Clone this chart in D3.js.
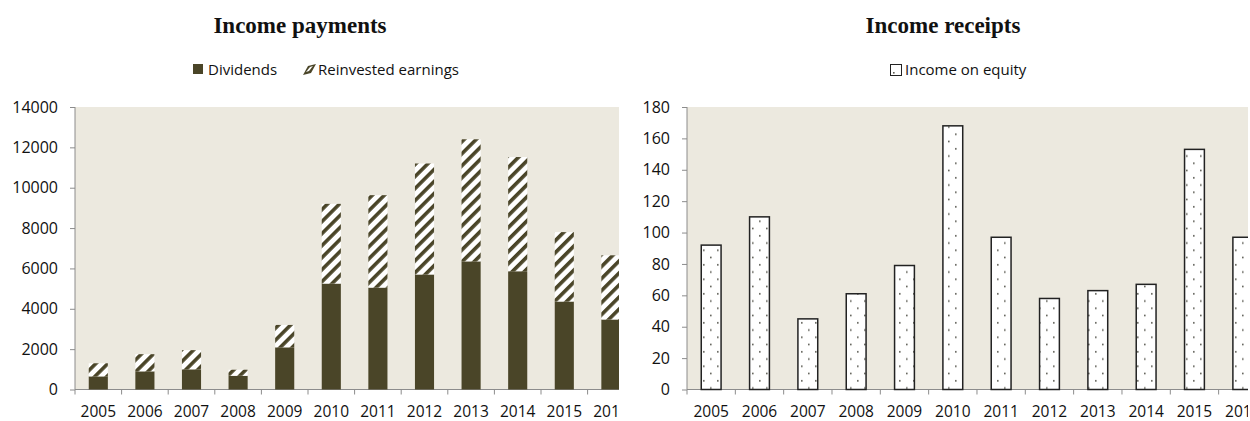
<!DOCTYPE html>
<html>
<head>
<meta charset="utf-8">
<script src="https://cdn.jsdelivr.net/npm/d3@7"></script>
<style>
  body { margin: 0; background: #fff; }
  svg { display: block; }
  text { font-family: "Open Sans", sans-serif; fill: #111; }
</style>
</head>
<body>
<div id="chart"></div>
<script>
// data
var years = ["2005","2006","2007","2008","2009","2010","2011","2012","2013","2014","2015","2016"]
var dividends = [650, 900, 1000, 680, 2090, 5250, 5050, 5700, 6350, 5860, 4360, 3470]
var reinvested = [650, 850, 950, 300, 1110, 3950, 4580, 5500, 6050, 5660, 3440, 3180]
var incomeOnEquity = [92, 110, 45, 61, 79, 168, 97, 58, 63, 67, 153, 97]
var paymentTicks = [0, 2000, 4000, 6000, 8000, 10000, 12000, 14000]
var receiptTicks = [0, 20, 40, 60, 80, 100, 120, 140, 160, 180]

var width = 1250
var height = 421
var plotTop = 107
var plotBottom = 389.5
var bg = "#ECE9DF"
var dark = "#4A4528"
var axisColor = "#8c8c8c"

var svg = d3.select("#chart")
  .append("svg")
    .attr("width", width)
    .attr("height", height)

var defs = svg.append("defs")

// diagonal stripes for reinvested earnings
var hatch = defs.append("pattern")
    .attr("id", "hatch")
    .attr("patternUnits", "userSpaceOnUse")
    .attr("width", 8.5)
    .attr("height", 8.5)
    .attr("patternTransform", "rotate(45)")
hatch.append("rect").attr("width", 8.5).attr("height", 8.5).attr("fill", "#fff")
hatch.append("rect").attr("width", 3.6).attr("height", 8.5).attr("fill", dark)

// sparse dots for income on equity
var dots = defs.append("pattern")
    .attr("id", "dots")
    .attr("patternUnits", "userSpaceOnUse")
    .attr("width", 14)
    .attr("height", 14.5)
dots.append("rect").attr("width", 14).attr("height", 14.5).attr("fill", "#fff")
dots.append("rect").attr("x", 3).attr("y", 3).attr("width", 1.6).attr("height", 1.6).attr("fill", "#5c5c54")
dots.append("rect").attr("x", 10).attr("y", 10.25).attr("width", 1.6).attr("height", 1.6).attr("fill", "#5c5c54")

defs.append("clipPath").attr("id", "clipLeft")
  .append("rect").attr("x", 0).attr("y", 0).attr("width", 619).attr("height", height)
defs.append("clipPath").attr("id", "clipRight")
  .append("rect").attr("x", 625).attr("y", 0).attr("width", 623).attr("height", height)

function drawAxes(g, x, y, ticks, x0, x1) {
  // plot background
  g.append("rect")
    .attr("x", x0)
    .attr("y", plotTop)
    .attr("width", x1 - x0)
    .attr("height", plotBottom - plotTop)
    .attr("fill", bg)

  var yAxis = g.append("g")
    .attr("transform", "translate(" + x0 + ",0)")
    .call(d3.axisLeft(y).tickValues(ticks).tickFormat(d3.format("d")).tickSize(5).tickPadding(12))
  yAxis.selectAll("text").style("font-size", "16px").attr("fill", "#111")
  yAxis.selectAll("line, path").attr("stroke", axisColor)
  yAxis.select(".domain").attr("d", "M0," + plotTop + "V" + plotBottom)

  // x axis: ticks on category boundaries, labels centred
  var step = x.step()
  var bounds = d3.range(years.length + 1).map(function(i){ return x.range()[0] + i * step })
  g.append("line")
    .attr("x1", x0).attr("x2", x1)
    .attr("y1", plotBottom).attr("y2", plotBottom)
    .attr("stroke", axisColor)
  g.selectAll(".xtick")
    .data(bounds)
    .enter()
    .append("line")
    .attr("x1", function(d){ return d }).attr("x2", function(d){ return d })
    .attr("y1", plotBottom).attr("y2", plotBottom + 5)
    .attr("stroke", axisColor)
  g.selectAll(".xlab")
    .data(years)
    .enter()
    .append("text")
    .attr("x", function(d){ return x(d) + x.bandwidth() / 2 })
    .attr("y", 416.5)
    .attr("text-anchor", "middle")
    .style("font-size", "15.5px")
    .text(function(d){ return d })
}

// ---- left chart: income payments ----
var left = svg.append("g").attr("clip-path", "url(#clipLeft)")
var xL = d3.scaleBand()
  .domain(years)
  .range([75, 75 + 46.6 * years.length])
  .paddingInner(0.59)
  .paddingOuter(0.295)
var yL = d3.scaleLinear().domain([0, 14000]).range([plotBottom, plotTop])

drawAxes(left, xL, yL, paymentTicks, 75, 619)

var stacked = d3.stack().keys(["dividends", "reinvested"])(years.map(function(d, i){
  return { year: d, dividends: dividends[i], reinvested: reinvested[i] }
}))
var fills = [dark, "url(#hatch)"]

left.selectAll(".layer")
  .data(stacked)
  .enter()
  .append("g")
    .attr("fill", function(d, i){ return fills[i] })
  .selectAll("rect")
  .data(function(d){ return d })
  .enter()
  .append("rect")
    .attr("x", function(d){ return xL(d.data.year) })
    .attr("width", xL.bandwidth())
    .attr("y", function(d){ return yL(d[1]) })
    .attr("height", function(d){ return yL(d[0]) - yL(d[1]) })

left.append("text")
  .attr("x", 300).attr("y", 33)
  .attr("text-anchor", "middle")
  .style("font-family", '"Liberation Serif", serif')
  .style("font-weight", "bold")
  .style("font-size", "23px")
  .text("Income payments")

// legend
left.append("rect").attr("x", 193).attr("y", 64).attr("width", 10).attr("height", 10).attr("fill", dark)
left.append("text").attr("x", 208).attr("y", 75).style("font-size", "15px").text("Dividends")
left.append("path").attr("d", "M303,75 L308,66 L316,64 L311,73 Z").attr("fill", dark)
left.append("path").attr("d", "M306,72 L310,67 L313,66 L309,71 Z").attr("fill", "#fff")
left.append("text").attr("x", 318).attr("y", 75).style("font-size", "15px").text("Reinvested earnings")

// ---- right chart: income receipts ----
var right = svg.append("g").attr("clip-path", "url(#clipRight)")
var xR = d3.scaleBand()
  .domain(years)
  .range([687, 687 + 48.33 * years.length])
  .paddingInner(0.59)
  .paddingOuter(0.295)
var yR = d3.scaleLinear().domain([0, 180]).range([plotBottom, plotTop])

drawAxes(right, xR, yR, receiptTicks, 687, 1248)

right.selectAll(".bar")
  .data(incomeOnEquity)
  .enter()
  .append("rect")
    .attr("x", function(d, i){ return xR(years[i]) })
    .attr("width", xR.bandwidth())
    .attr("y", function(d){ return yR(d) })
    .attr("height", function(d){ return plotBottom - yR(d) })
    .attr("fill", "url(#dots)")
    .attr("stroke", "#222")
    .attr("stroke-width", 1.5)

right.append("text")
  .attr("x", 943).attr("y", 33)
  .attr("text-anchor", "middle")
  .style("font-family", '"Liberation Serif", serif')
  .style("font-weight", "bold")
  .style("font-size", "23px")
  .text("Income receipts")

right.append("rect").attr("x", 890.5).attr("y", 64.5).attr("width", 11).attr("height", 11).attr("fill", "#fff").attr("stroke", "#222")
right.append("rect").attr("x", 893).attr("y", 72).attr("width", 1.6).attr("height", 1.6).attr("fill", "#5c5c54")
right.append("text").attr("x", 905).attr("y", 75).style("font-size", "15px").text("Income on equity")
</script>
</body>
</html>
